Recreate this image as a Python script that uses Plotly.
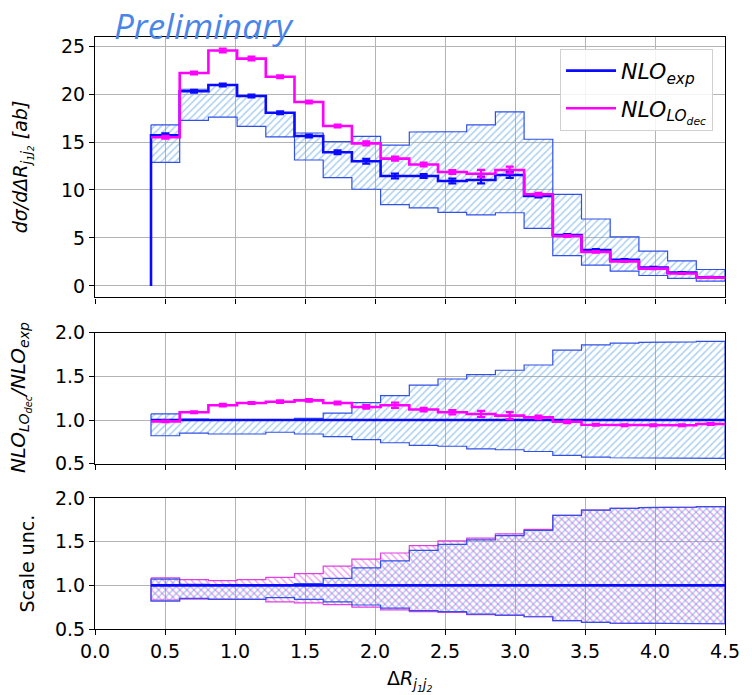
import numpy as np
import plotly.graph_objects as go

# ---------------- data ----------------
bin_edges = [0.4, 0.605, 0.81, 1.015, 1.22, 1.425, 1.63, 1.835, 2.04, 2.245, 2.45,
             2.655, 2.86, 3.065, 3.27, 3.475, 3.68, 3.885, 4.09, 4.295, 4.5]

nlo_exp = [15.7, 20.3, 20.94, 19.8, 18.06, 15.63, 13.93, 13.0, 11.46, 11.46,
           10.94, 11.04, 11.56, 9.38, 5.3, 3.75, 2.72, 1.92, 1.38, 0.9]
nlo_exp_err = [0.2, 0.15, 0.15, 0.15, 0.15, 0.15, 0.2, 0.25, 0.25, 0.2,
               0.25, 0.35, 0.3, 0.15, 0.1, 0.1, 0.08, 0.06, 0.05, 0.04]
nlo_lodec = [15.5, 22.2, 24.55, 23.7, 21.8, 19.17, 16.67, 14.86, 13.27, 12.66,
             11.88, 11.7, 12.08, 9.55, 5.2, 3.55, 2.56, 1.80, 1.30, 0.86]
nlo_lodec_err = [0.15, 0.15, 0.2, 0.2, 0.15, 0.15, 0.15, 0.2, 0.2, 0.2,
                 0.2, 0.4, 0.35, 0.15, 0.1, 0.08, 0.06, 0.05, 0.04, 0.03]

# relative scale uncertainty of NLO_exp (up / down)
exp_scale_up = [1.07, 1.01, 1.0, 1.0, 1.0, 1.02, 1.08, 1.2, 1.28, 1.40,
                1.47, 1.52, 1.57, 1.63, 1.80, 1.86, 1.88, 1.89, 1.895, 1.90]
exp_scale_dn = [0.82, 0.85, 0.84, 0.84, 0.86, 0.84, 0.81, 0.775, 0.74, 0.71,
                0.70, 0.67, 0.66, 0.64, 0.595, 0.576, 0.568, 0.565, 0.565, 0.56]
# relative scale uncertainty of NLO_LOdec
lodec_scale_up = [1.085, 1.065, 1.054, 1.065, 1.09, 1.134, 1.22, 1.30, 1.37, 1.455,
                  1.51, 1.54, 1.59, 1.64, 1.80, 1.86, 1.88, 1.89, 1.895, 1.90]
lodec_scale_dn = [0.83, 0.845, 0.84, 0.84, 0.81, 0.80, 0.78, 0.75, 0.72, 0.70,
                  0.69, 0.665, 0.655, 0.64, 0.595, 0.576, 0.568, 0.565, 0.565, 0.56]

# ratio NLO_LOdec / NLO_exp
ratio_lodec = [0.985, 1.09, 1.17, 1.195, 1.21, 1.225, 1.195, 1.15, 1.17, 1.12,
               1.09, 1.07, 1.05, 1.03, 0.98, 0.946, 0.94, 0.94, 0.94, 0.954]
ratio_lodec_err = [0.01, 0.01, 0.015, 0.01, 0.015, 0.015, 0.015, 0.02, 0.03, 0.02,
                   0.025, 0.035, 0.04, 0.02, 0.015, 0.01, 0.01, 0.01, 0.01, 0.01]
ratio_exp = [1.0] * 20

x_ticks = [0.0, 0.5, 1.0, 1.5, 2.0, 2.5, 3.0, 3.5, 4.0, 4.5]

# ---------------- styles ----------------
BLUE = "#0a0aff"
MAG = "#ff00ff"
BAND_LINE = "#3050e6"
HATCH_BLUE = "#5aa2e6"
HATCH_MAG = "#e050e0"
GRID = "#b4b4b4"
FONT = "DejaVu Sans"

edges = np.array(bin_edges)
centers = 0.5 * (edges[:-1] + edges[1:])


def step_xy(vals):
    xs = np.repeat(edges, 2)[1:-1]
    ys = np.repeat(np.asarray(vals, dtype=float), 2)
    return xs, ys


def band_xy(up, dn):
    xs, yu = step_xy(up)
    _, yd = step_xy(dn)
    return (np.concatenate([xs, xs[::-1], xs[:1]]),
            np.concatenate([yu, yd[::-1], yu[:1]]))


fig = go.Figure()


def add_band(up, dn, xa, ya, shape, hatch, edge):
    bx, by = band_xy(up, dn)
    fig.add_trace(go.Scatter(
        x=bx, y=by, mode="lines", fill="toself",
        fillcolor="rgba(0,0,0,0)",
        fillpattern=dict(shape=shape, fgcolor=hatch, bgcolor="rgba(0,0,0,0)",
                         size=5, solidity=0.3),
        line=dict(color=edge, width=1.2), showlegend=False, hoverinfo="skip",
        xaxis=xa, yaxis=ya))


def add_step(vals, xa, ya, color, name=None, show=False, drop_start=False):
    xs, ys = step_xy(vals)
    if drop_start:
        xs = np.concatenate([[edges[0]], xs])
        ys = np.concatenate([[0.0], ys])
    fig.add_trace(go.Scatter(
        x=xs, y=ys, mode="lines", line=dict(color=color, width=2.6),
        name=name, showlegend=show, xaxis=xa, yaxis=ya, hoverinfo="skip",
        legendgroup=name))


def add_err(vals, errs, xa, ya, color):
    fig.add_trace(go.Scatter(
        x=centers, y=vals, mode="markers",
        marker=dict(size=1, color=color),
        error_y=dict(type="data", array=errs, color=color, thickness=2.2, width=4),
        showlegend=False, xaxis=xa, yaxis=ya, hoverinfo="skip"))


# --- top panel ---
up_abs = np.array(nlo_exp) * np.array(exp_scale_up)
dn_abs = np.array(nlo_exp) * np.array(exp_scale_dn)
add_band(up_abs, dn_abs, "x", "y", "/", HATCH_BLUE, BAND_LINE)
add_step(nlo_exp, "x", "y", BLUE, "<i>NLO<sub>exp</sub></i>", True, drop_start=True)
add_err(nlo_exp, nlo_exp_err, "x", "y", BLUE)
add_step(nlo_lodec, "x", "y", MAG, "<i>NLO<sub>LO<sub>dec</sub></sub></i>", True)
add_err(nlo_lodec, nlo_lodec_err, "x", "y", MAG)

# --- middle panel ---
add_band(exp_scale_up, exp_scale_dn, "x2", "y2", "/", HATCH_BLUE, BAND_LINE)
add_step(ratio_exp, "x2", "y2", BLUE)
add_step(ratio_lodec, "x2", "y2", MAG)
add_err(ratio_lodec, ratio_lodec_err, "x2", "y2", MAG)

# --- bottom panel ---
add_band(lodec_scale_up, lodec_scale_dn, "x3", "y3", "\\", HATCH_MAG, "#e040e0")
add_band(exp_scale_up, exp_scale_dn, "x3", "y3", "/", HATCH_BLUE, BAND_LINE)
add_step(ratio_exp, "x3", "y3", BLUE)

# ---------------- layout ----------------
tickfont = dict(family=FONT, size=19, color="black")
common_x = dict(range=[0, 4.5], tickvals=x_ticks, showgrid=True, gridcolor=GRID,
                gridwidth=1, showline=True, linecolor="black", linewidth=1.2,
                mirror=True, ticks="outside", ticklen=5, tickcolor="black",
                zeroline=False, tickfont=tickfont)
common_y = dict(showgrid=True, gridcolor=GRID, gridwidth=1, showline=True,
                linecolor="black", linewidth=1.2, mirror=True, ticks="outside",
                ticklen=5, tickcolor="black", zeroline=False, tickfont=tickfont)

fig.update_layout(
    width=752, height=695,
    margin=dict(l=95, r=19, t=37, b=66),
    plot_bgcolor="white", paper_bgcolor="white",
    font=dict(family=FONT, size=19, color="black"),
    xaxis=dict(common_x, anchor="y", showticklabels=False, domain=[0, 1]),
    xaxis2=dict(common_x, anchor="y2", showticklabels=False, matches="x", domain=[0, 1]),
    xaxis3=dict(common_x, anchor="y3", tickformat=".1f", matches="x", domain=[0, 1]),
    yaxis=dict(common_y, anchor="x", domain=[0.5601, 1.0], range=[-1.2, 25.95],
               tickvals=[0, 5, 10, 15, 20, 25]),
    yaxis2=dict(common_y, anchor="x2", domain=[0.2792, 0.5005], range=[0.5, 2.0],
                tickvals=[0.5, 1.0, 1.5, 2.0], tickformat=".1f"),
    yaxis3=dict(common_y, anchor="x3", domain=[0.0, 0.2213], range=[0.5, 2.0],
                tickvals=[0.5, 1.0, 1.5, 2.0], tickformat=".1f"),
    legend=dict(x=0.981, xanchor="right", y=0.98, yanchor="top",
                bgcolor="rgba(255,255,255,0.85)", bordercolor="#d0d0d0", borderwidth=1,
                font=dict(family=FONT, size=22, style="italic"),
                tracegroupgap=6, itemwidth=50),
    showlegend=True,
)

annotations = [
    dict(text="<i>Preliminary</i>", x=0, y=1.0186, xref="paper", yref="paper",
         xanchor="left", yanchor="middle", xshift=17,
         showarrow=False, font=dict(family="Open Sans", size=35, color="#4a86e8")),
    dict(text="<i>dσ/dΔR<sub>j<sub>1</sub>j<sub>2</sub></sub> [ab]</i>", x=0, y=0.78,
         xref="paper", yref="paper", xanchor="center", yanchor="middle", xshift=-73,
         textangle=-90, showarrow=False, font=dict(family=FONT, size=19)),
    dict(text="<i>NLO<sub>LO<sub>dec</sub></sub>/NLO<sub>exp</sub></i>", x=0, y=0.39,
         xref="paper", yref="paper", xanchor="center", yanchor="middle", xshift=-75,
         textangle=-90, showarrow=False, font=dict(family=FONT, size=20)),
    dict(text="Scale unc.", x=0, y=0.1107, xref="paper", yref="paper", xshift=-68,
         xanchor="center", yanchor="middle",
         textangle=-90, showarrow=False, font=dict(family=FONT, size=19)),
    dict(text="Δ<i>R<sub>j<sub>1</sub>j<sub>2</sub></sub></i>", x=0.5, y=0, xref="paper",
         yref="paper", xanchor="center", yanchor="middle", yshift=-51,
         showarrow=False, font=dict(family=FONT, size=19)),
]
fig.update_layout(annotations=annotations)

fig.write_html("out.html")
